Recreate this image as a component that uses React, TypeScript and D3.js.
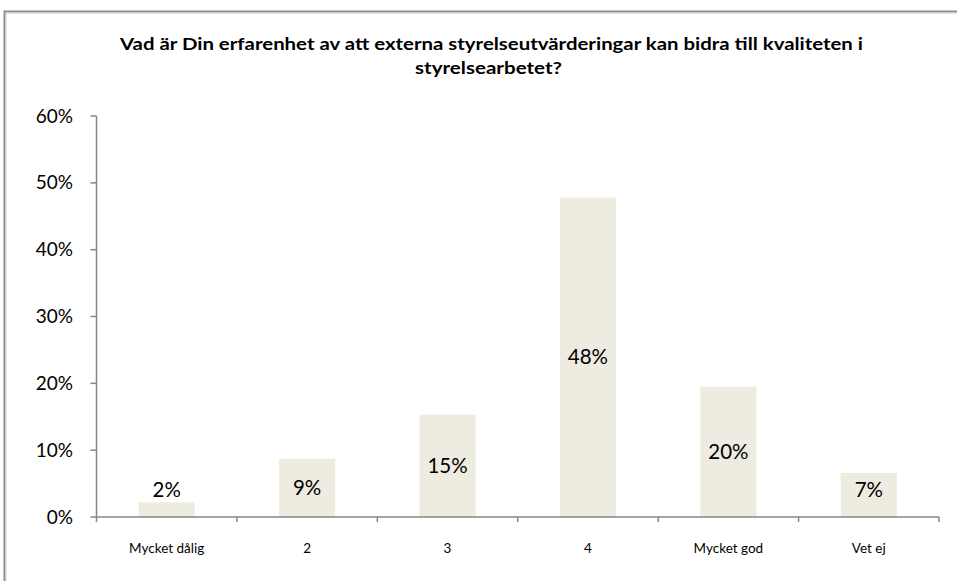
import React from "react";
import * as d3 from "d3";

const categories = ["Mycket dålig", "2", "3", "4", "Mycket god", "Vet ej"];
const values = [2.2, 8.7, 15.3, 47.8, 19.5, 6.6];
const valueLabels = ["2%", "9%", "15%", "48%", "20%", "7%"];
const yTicks = [0, 10, 20, 30, 40, 50, 60];
const titleLines = [
  "Vad är Din erfarenhet av att externa styrelseutvärderingar kan bidra till kvaliteten i",
  "styrelsearbetet?",
];

const W = 957;
const H = 581;
const FONT = "Lato, 'Open Sans', sans-serif";

export default function App() {
  const left = 96.5;
  const right = 939;
  const top = 116;
  const bottom = 517;

  const x = d3.scaleBand<string>().domain(categories).range([left, right]).paddingInner(0).paddingOuter(0);
  const y = d3.scaleLinear().domain([0, 60]).range([bottom, top]);
  const barW = x.bandwidth() * 0.4;
  const axisColor = "#868686";

  return (
    <svg width={W} height={H} style={{ position: "absolute", left: 0, top: 0 }} fontFamily={FONT}>
      <rect x={0} y={0} width={W} height={H} fill="#fff" />
      {/* chart frame */}
      <path d={`M4.5,${H + 5} V11.5 H${W + 5}`} fill="none" stroke="#8c8c8c" strokeWidth={2} />
      <path d={`M6,${H + 5} V13 H${W + 5}`} fill="none" stroke="#d0d0d0" strokeWidth={1} />

      {/* title */}
      <text x={491.5} y={50} textAnchor="middle" fontWeight="bold" fontSize={17} textLength={743} lengthAdjust="spacingAndGlyphs" fill="#000">
        {titleLines[0]}
      </text>
      <text x={488.5} y={74} textAnchor="middle" fontWeight="bold" fontSize={17} textLength={147} lengthAdjust="spacingAndGlyphs" fill="#000">
        {titleLines[1]}
      </text>

      {/* bars */}
      {categories.map((c, i) => {
        const cx = (x(c) as number) + x.bandwidth() / 2;
        return (
          <rect key={c} x={cx - barW / 2} y={y(values[i])} width={barW} height={bottom - y(values[i])} fill="#EEEBE0" />
        );
      })}

      {/* y axis */}
      <line x1={left} x2={left} y1={top} y2={bottom} stroke={axisColor} strokeWidth={1.5} />
      {yTicks.map((t) => (
        <g key={t}>
          <line x1={left - 6} x2={left} y1={y(t)} y2={y(t)} stroke={axisColor} strokeWidth={1.5} />
          <text x={73} y={y(t)} dy="0.35em" textAnchor="end" fontSize={19} fill="#000">
            {t}%
          </text>
        </g>
      ))}

      {/* x axis */}
      <line x1={left} x2={right} y1={bottom} y2={bottom} stroke={axisColor} strokeWidth={1.5} />
      {[...categories.map((c) => x(c) as number), right].map((px, i) => (
        <line key={i} x1={px} x2={px} y1={bottom} y2={bottom + 5} stroke={axisColor} strokeWidth={1.5} />
      ))}
      {categories.map((c) => (
        <text key={c} x={(x(c) as number) + x.bandwidth() / 2} y={548} dy="0.35em" textAnchor="middle" fontSize={13.5} fill="#000">
          {c}
        </text>
      ))}

      {/* value labels */}
      {categories.map((c, i) => {
        const cx = (x(c) as number) + x.bandwidth() / 2;
        const top_ = y(values[i]);
        const mid = (top_ + bottom) / 2;
        const ly = Math.min(mid, bottom - 27);
        return (
          <text key={c} x={cx} y={ly} dy="0.35em" textAnchor="middle" fontSize={20.5} fill="#000">
            {valueLabels[i]}
          </text>
        );
      })}
    </svg>
  );
}
